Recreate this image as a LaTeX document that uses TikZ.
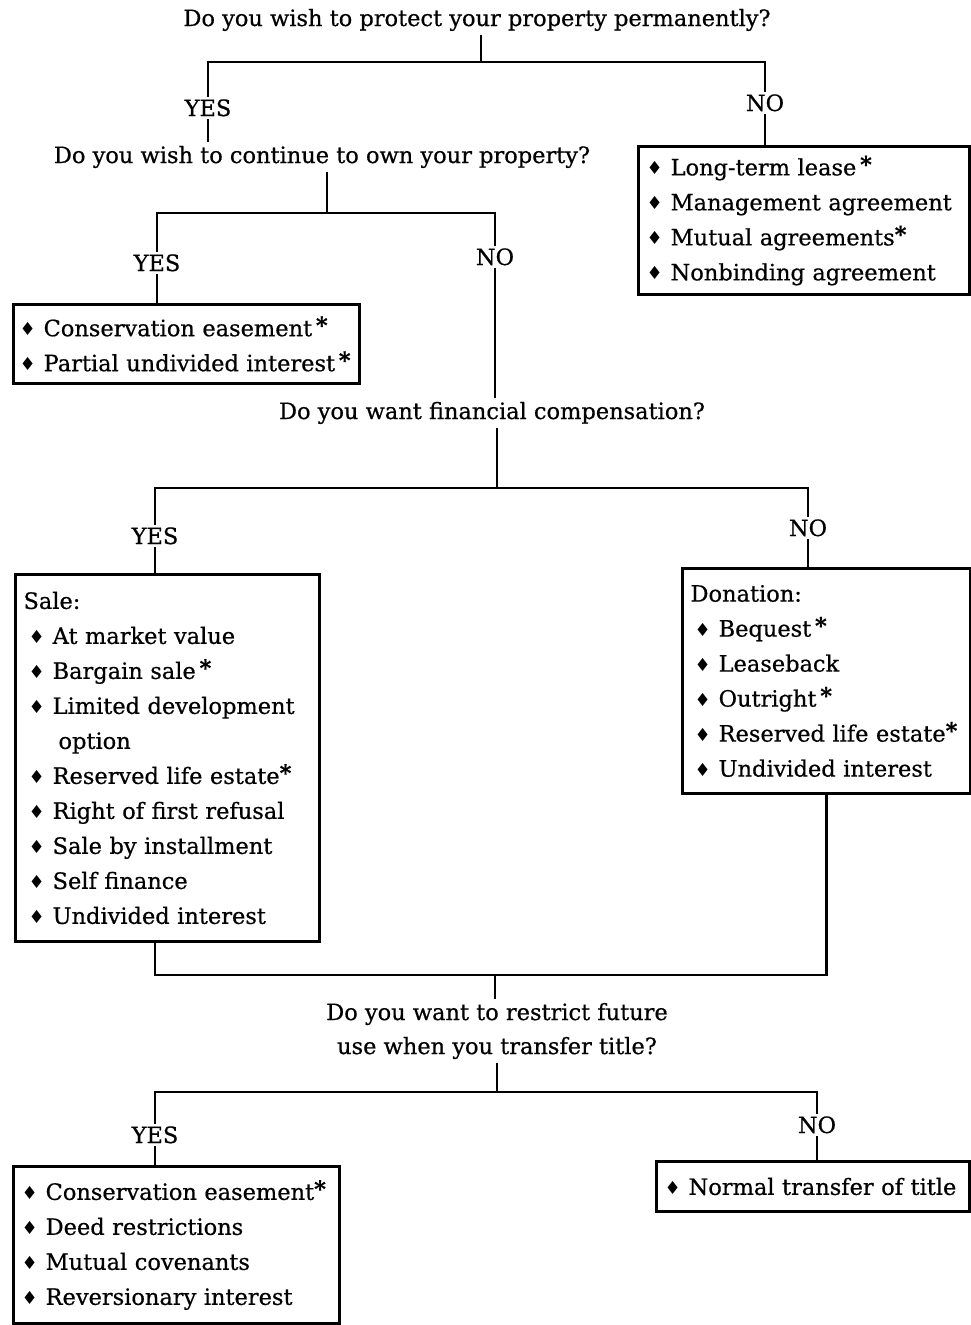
\documentclass[tikz,border=0pt]{standalone}
\usepackage{fontspec}
\setmainfont{DejaVu Serif}[FakeBold=0.6]
\newfontfamily\symfont{DejaVu Sans}
\newcommand\dia{{\symfont\fontsize{18}{18}\selectfont\raisebox{0.5pt}{♦}}\hspace{8pt}}
\newcommand\stm{{\bfseries\raisebox{3pt}{*}}}
\begin{document}
\begin{tikzpicture}[x=1pt,y=-1pt,
  txt/.style={font=\fontsize{22.5}{34}\selectfont},
  q/.style={txt, inner xsep=2pt, inner ysep=4pt, text height=17pt, text depth=5pt},
  lab/.style={txt, inner xsep=2pt, inner ysep=3pt, text height=16pt, text depth=0pt},
  box/.style={draw, line width=3pt, anchor=north west, inner xsep=8pt, inner ysep=0pt, align=left, font=\fontsize{22.5}{35}\selectfont},
  ln/.style={line width=2.8pt}]
\useasboundingbox (0,0) rectangle (970,1325);

% questions
\node[q] (q1) at (477,20) {Do you wish to protect your property permanently?};
\node[q] (q2) at (322,157) {Do you wish to continue to own your property?};
\node[q] (q3) at (492,413) {Do you want financial compensation?};
\node[txt, align=center, inner sep=4pt, text depth=5pt] (q4) at (497,1031) {Do you want to restrict future\\use when you transfer title?};

% labels
\node[lab] (y1) at (208,108) {YES};
\node[lab] (n1) at (765,103) {NO};
\node[lab] (y2) at (157,263) {YES};
\node[lab] (n2) at (495,257) {NO};
\node[lab] (y3) at (155,536) {YES};
\node[lab] (n3) at (808,528) {NO};
\node[lab] (y4) at (155,1135) {YES};
\node[lab] (n4) at (817,1125) {NO};

% boxes
\node[box, minimum width=331pt, minimum height=148pt, text width=315pt] (b1) at (637,145)
 {\dia Long-term lease\,\stm\\\dia Management agreement\\\dia Mutual agreements\stm\\\dia Nonbinding agreement};
\node[box, minimum width=346pt, minimum height=79pt, text width=338pt, inner xsep=4pt] (b2) at (12,303)
 {\hspace*{2pt}\dia Conservation easement\,\stm\\\hspace*{2pt}\dia Partial undivided interest\,\stm};
\node[box, minimum width=304pt, minimum height=367pt, text width=288pt] (b3) at (14,573)
 {Sale:\\\hspace*{5pt}\dia At market value\\\hspace*{5pt}\dia Bargain sale\,\stm\\\hspace*{5pt}\dia Limited development\\\hspace*{35pt}option\\\hspace*{5pt}\dia Reserved life estate\stm\\\hspace*{5pt}\dia Right of first refusal\\\hspace*{5pt}\dia Sale by installment\\\hspace*{5pt}\dia Self finance\\\hspace*{5pt}\dia Undivided interest};
\node[box, minimum width=287pt, minimum height=225pt, text width=280pt, inner xsep=4pt] (b4) at (681,567)
 {\hspace*{4pt}Donation:\\\hspace*{8pt}\dia Bequest\,\stm\\\hspace*{8pt}\dia Leaseback\\\hspace*{8pt}\dia Outright\,\stm\\\hspace*{8pt}\dia Reserved life estate\stm\\\hspace*{8pt}\dia Undivided interest};
\node[box, minimum width=326pt, minimum height=157pt, text width=310pt] (b5) at (12,1165)
 {\dia Conservation easement\stm\\\dia Deed restrictions\\\dia Mutual covenants\\\dia Reversionary interest};
\node[box, minimum width=313pt, minimum height=50pt, text width=297pt] (b6) at (655,1160)
 {\dia Normal transfer of title};

% junction points
\coordinate (j1) at (481,62);
\coordinate (j2) at (327,213);
\coordinate (j3) at (497,488);
\coordinate (j4) at (495,975);
\coordinate (j5) at (497,1092);

% connectors
\draw[ln] (j1 |- q1.south) -- (j1);
\draw[ln] (y1.north) |- (j1) -| (n1.north);
\draw[ln] (y1.south) -- (y1.south |- q2.north);
\draw[ln] (n1.south) -- (n1.south |- b1.north);
\draw[ln] (j2 |- q2.south) -- (j2);
\draw[ln] (y2.north) |- (j2) -| (n2.north);
\draw[ln] (y2.south) -- (y2.south |- b2.north);
\draw[ln] (n2.south) -- (n2.south |- q3.north);
\draw[ln] (j3 |- q3.south) -- (j3);
\draw[ln] (y3.north) |- (j3) -| (n3.north);
\draw[ln] (y3.south) -- (y3.south |- b3.north);
\draw[ln] (n3.south) -- (n3.south |- b4.north);
\draw[ln] (y3 |- b3.south) |- (j4) -| (b4.south);
\draw[ln] (j4) -- (j4 |- q4.north);
\draw[ln] (j5 |- q4.south) -- (j5);
\draw[ln] (y4.north) |- (j5) -| (n4.north);
\draw[ln] (y4.south) -- (y4.south |- b5.north);
\draw[ln] (n4.south) -- (n4.south |- b6.north);
\end{tikzpicture}
\end{document}
